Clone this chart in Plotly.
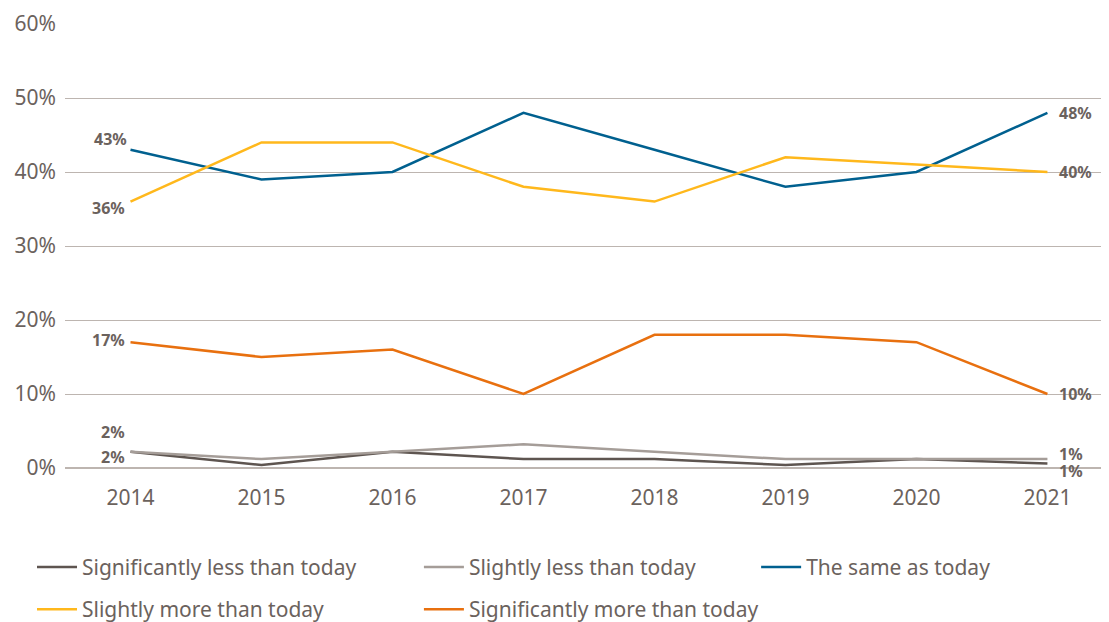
import plotly.graph_objects as go

years = [2014, 2015, 2016, 2017, 2018, 2019, 2020, 2021]

sig_less = [2.2, 0.4, 2.2, 1.2, 1.2, 0.4, 1.2, 0.6]
slight_less = [2.2, 1.2, 2.2, 3.2, 2.2, 1.2, 1.2, 1.2]
same = [43, 39, 40, 48, 43, 38, 40, 48]
slight_more = [36, 44, 44, 38, 36, 42, 41, 40]
sig_more = [17, 15, 16, 10, 18, 18, 17, 10]

y_ticks = [0, 10, 20, 30, 40, 50, 60]
y_tick_labels = ["0%", "10%", "20%", "30%", "40%", "50%", "60%"]

series_names = [
    "Significantly less than today",
    "Slightly less than today",
    "The same as today",
    "Slightly more than today",
    "Significantly more than today",
]
series_values = [sig_less, slight_less, same, slight_more, sig_more]
colors = ["#5e5550", "#a59d98", "#00608f", "#ffb81c", "#e8700f"]
legend_ids = ["legend", "legend2", "legend3", "legend", "legend2"]

# label offsets (px) for first / last point
first_shift = [(-4, -5), (-4, 20), (-2, 11), (-4, -6), (-4, 2)]
last_shift = [(10, -7), (10, 5), (10, 0), (10, 0), (10, 0)]

text_color = "#6b625d"
grid_color = "#bdb5b0"
font_family = "Noto Sans, Open Sans, sans-serif"

fig = go.Figure()
for i, (name, vals) in enumerate(zip(series_names, series_values)):
    fig.add_trace(go.Scatter(
        x=years, y=vals, name=name, mode="lines",
        line=dict(color=colors[i], width=2.5),
        legend=legend_ids[i], legendgroup=name,
        cliponaxis=False,
    ))
    for idx, shift, anchor in [(0, first_shift[i], "right"), (-1, last_shift[i], "left")]:
        fig.add_annotation(
            x=years[idx], y=vals[idx], text=f"{round(vals[idx])}%",
            showarrow=False, xanchor=anchor, yanchor="middle",
            xshift=shift[0], yshift=shift[1],
            font=dict(family=font_family, size=16, color=text_color, weight="bold"),
        )

legend_common = dict(
    orientation="v", yanchor="top", y=-0.1775, xanchor="left",
    font=dict(family=font_family, size=21, color=text_color),
    tracegroupgap=12, bgcolor="rgba(0,0,0,0)", itemwidth=40,
)

# the page body adds an 8px margin, so the figure is sized to fit the window
fig.update_layout(
    width=1101, height=614,
    margin=dict(l=57, r=0, t=16, b=154, autoexpand=False),
    paper_bgcolor="white", plot_bgcolor="white",
    font=dict(family=font_family, size=21, color=text_color),
    showlegend=True,
    legend=dict(x=-0.0316, **legend_common),
    legend2=dict(x=0.339, **legend_common),
    legend3=dict(x=0.662, **legend_common),
    xaxis=dict(
        range=[2013.5, 2021.47], tickmode="array", tickvals=years,
        showgrid=False, zeroline=False, showline=False,
        ticklabelstandoff=15, tickfont=dict(size=21, color=text_color),
    ),
    yaxis=dict(
        range=[0, 60], tickmode="array", tickvals=y_ticks, ticktext=y_tick_labels,
        showgrid=True, gridcolor=grid_color, gridwidth=1,
        zeroline=True, zerolinecolor=grid_color, zerolinewidth=1.5,
        showline=False, ticklabelstandoff=8,
        tickfont=dict(size=21, color=text_color),
    ),
)

fig.write_html("out.html")
